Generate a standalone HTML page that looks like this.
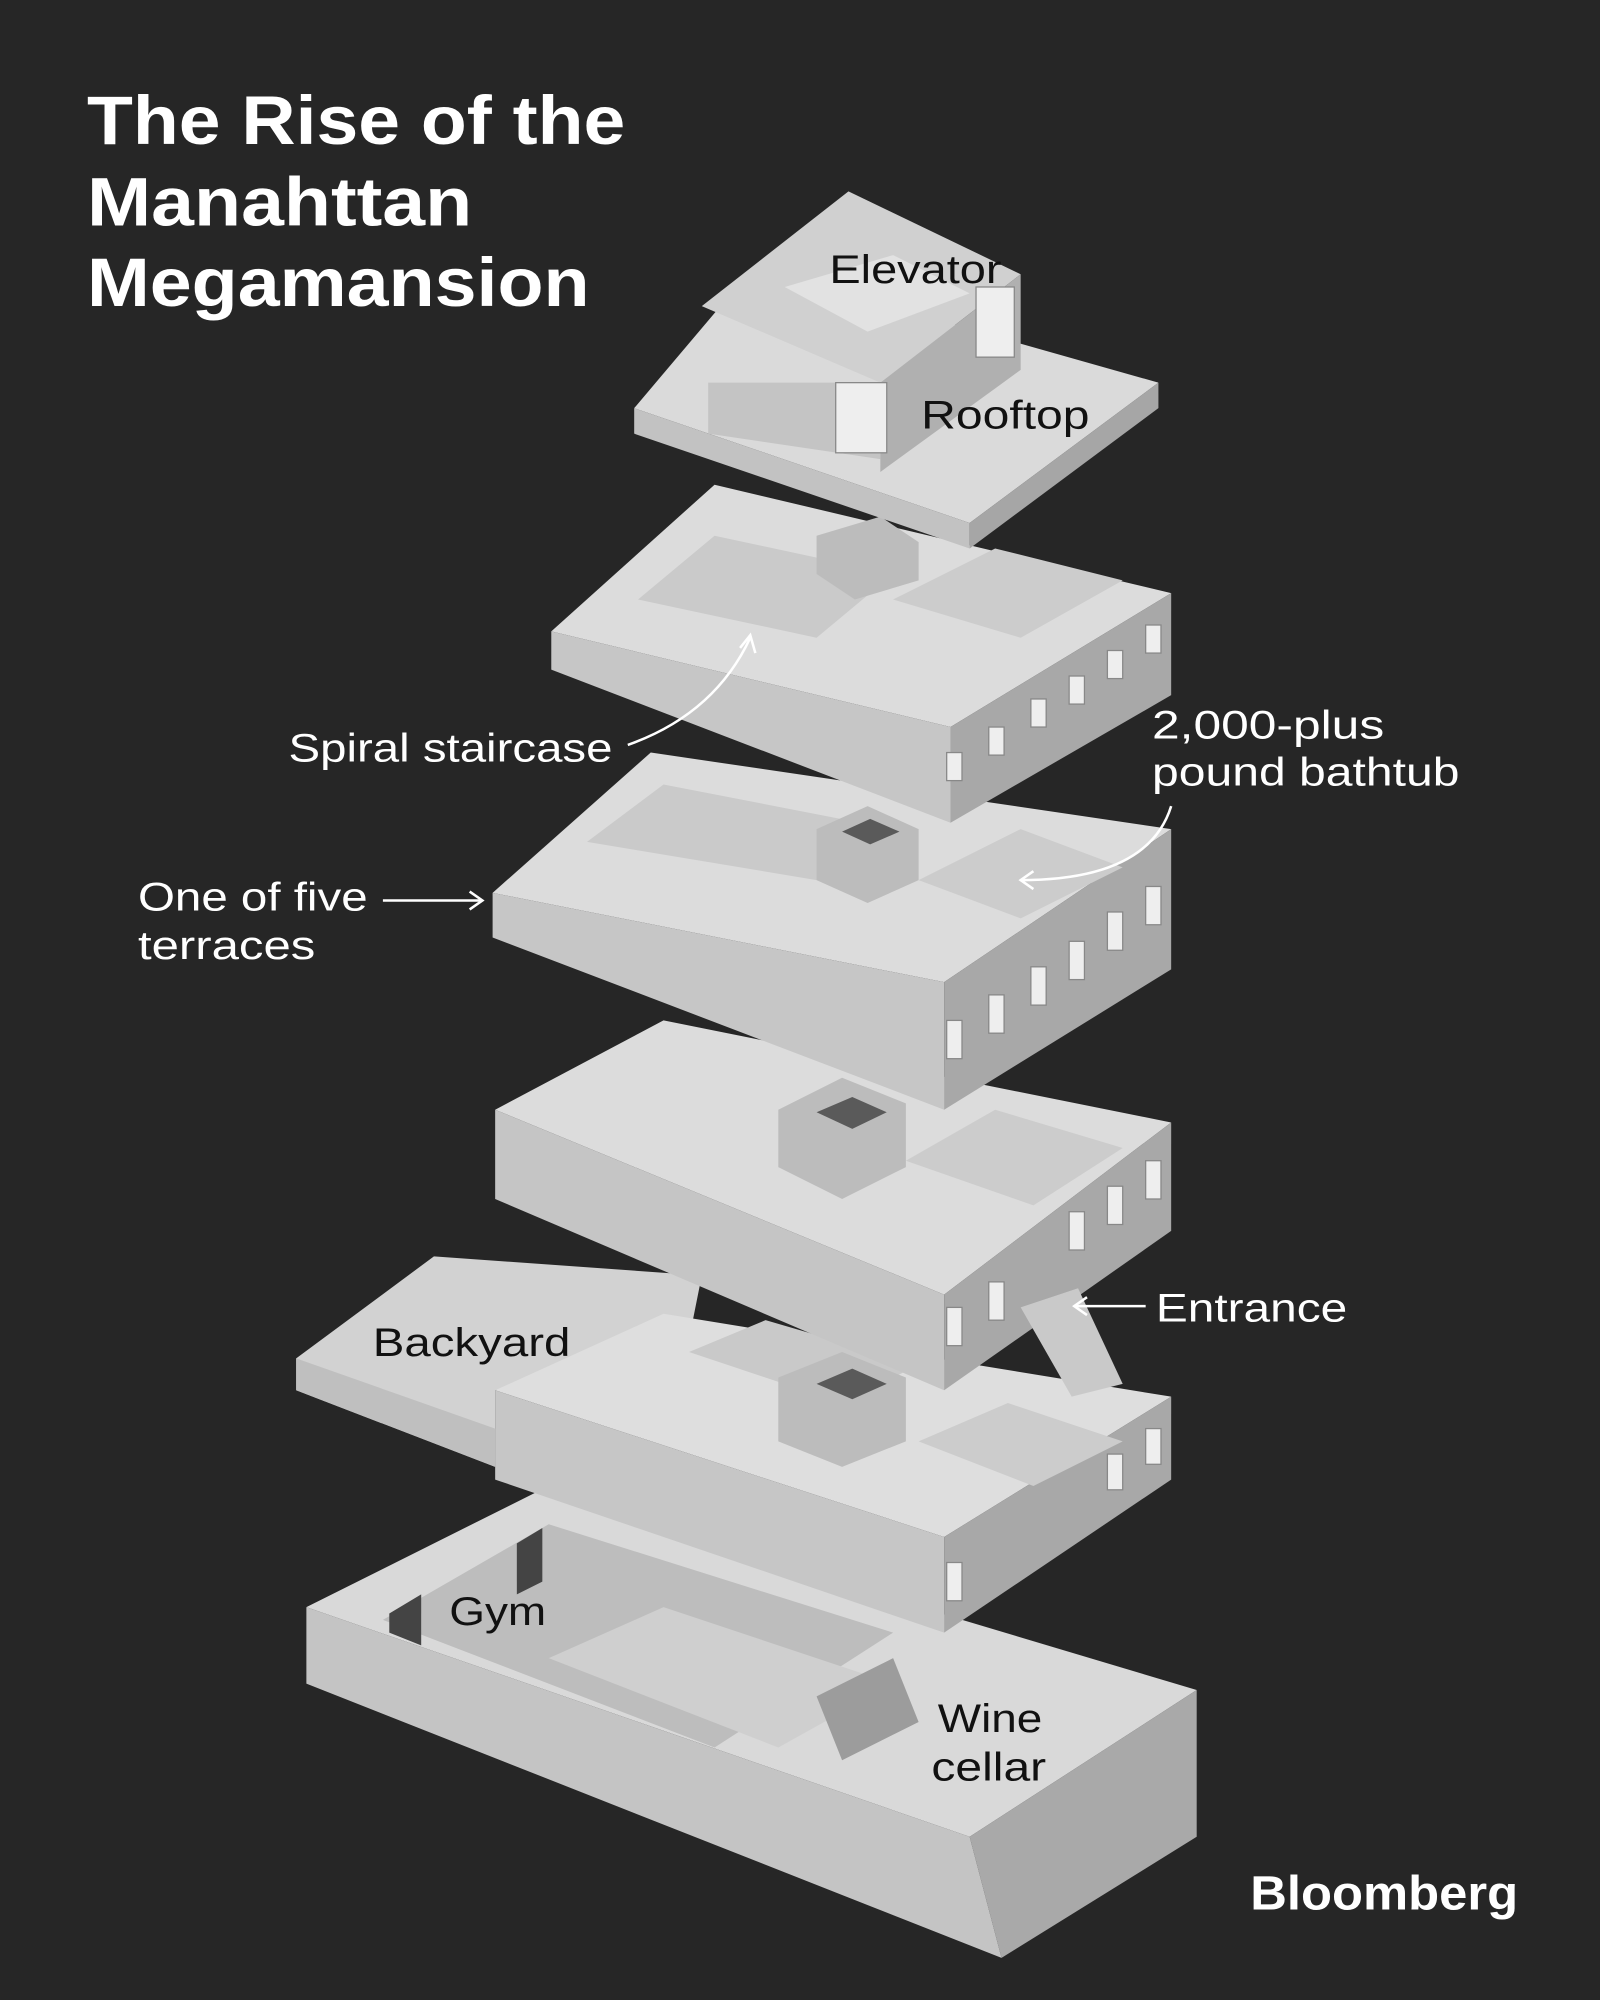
<!DOCTYPE html>
<html><head><meta charset="utf-8"><style>
html,body{margin:0;padding:0;background:#262626;}
svg{display:block}
</style></head><body>
<svg width="1600" height="2000" viewBox="0 0 1254 1568" xmlns="http://www.w3.org/2000/svg" font-family="Liberation Sans, sans-serif">
<rect width="1254" height="1568" fill="#262626"/>
<g font-weight="bold" fill="#fff" font-size="54">
<text x="68" y="113" textLength="422" lengthAdjust="spacingAndGlyphs">The Rise of the</text>
<text x="68" y="177" textLength="302" lengthAdjust="spacingAndGlyphs">Manahttan</text>
<text x="68" y="240" textLength="394" lengthAdjust="spacingAndGlyphs">Megamansion</text>
</g>

<!-- Basement -->
<polygon points="240,1260 420,1170 938,1325 760,1440" fill="#d9d9d9"/>
<polygon points="240,1260 760,1440 785,1535 240,1320" fill="#c4c4c4"/>
<polygon points="760,1440 938,1325 938,1440 785,1535" fill="#a9a9a9"/>
<polygon points="300,1270 430,1195 700,1280 560,1370" fill="#bdbdbd"/>
<polygon points="430,1300 520,1260 700,1320 610,1370" fill="#cfcfcf"/>
<polygon points="640,1330 700,1300 720,1350 660,1380" fill="#9c9c9c"/>
<polygon points="305,1265 330,1250 330,1290 305,1280" fill="#444"/>
<polygon points="405,1210 425,1198 425,1240 405,1250" fill="#444"/>

<!-- Floor 1 with backyard -->
<polygon points="232,1065 340,985 550,1000 540,1050 388,1090 388,1150 232,1090" fill="#d2d2d2"/>
<polygon points="232,1065 388,1120 388,1150 232,1090" fill="#bfbfbf"/>
<polygon points="388,1090 520,1030 918,1095 740,1205" fill="#dedede"/>
<polygon points="388,1090 740,1205 740,1280 388,1160" fill="#c6c6c6"/>
<polygon points="740,1205 918,1095 918,1160 740,1280" fill="#a8a8a8"/>
<polygon points="540,1060 600,1035 720,1070 660,1100" fill="#c9c9c9"/>
<polygon points="610,1080 660,1060 710,1080 710,1130 660,1150 610,1130" fill="#bcbcbc"/>
<polygon points="640,1085 668,1073 695,1085 668,1097" fill="#5a5a5a"/>
<polygon points="720,1130 790,1100 880,1130 810,1165" fill="#cccccc"/>

<!-- Floor 2 -->
<polygon points="388,870 520,800 918,880 740,1015" fill="#dcdcdc"/>
<polygon points="388,870 740,1015 740,1090 388,940" fill="#c5c5c5"/>
<polygon points="740,1015 918,880 918,965 740,1090" fill="#a8a8a8"/>
<polygon points="610,870 660,845 710,865 710,915 660,940 610,915" fill="#bcbcbc"/>
<polygon points="640,872 668,860 695,872 668,885" fill="#5a5a5a"/>
<polygon points="710,910 780,870 880,900 810,945" fill="#cccccc"/>
<polygon points="800,1025 845,1010 880,1085 840,1095" fill="#c9c9c9"/>

<!-- Floor 3 -->
<polygon points="386,700 510,590 918,650 740,770" fill="#dcdcdc"/>
<polygon points="386,700 740,770 740,870 386,735" fill="#c6c6c6"/>
<polygon points="740,770 918,650 918,760 740,870" fill="#a8a8a8"/>
<polygon points="460,660 520,615 700,650 640,690" fill="#cacaca"/>
<polygon points="640,650 680,632 720,650 720,690 680,708 640,690" fill="#bcbcbc"/>
<polygon points="660,652 682,642 705,652 682,662" fill="#5a5a5a"/>
<polygon points="720,690 800,650 880,680 800,720" fill="#cccccc"/>

<!-- Floor 4 -->
<polygon points="432,495 560,380 918,465 745,570" fill="#dcdcdc"/>
<polygon points="432,495 745,570 745,645 432,525" fill="#c6c6c6"/>
<polygon points="745,570 918,465 918,545 745,645" fill="#a8a8a8"/>
<polygon points="500,470 560,420 700,450 640,500" fill="#cacaca"/>
<polygon points="640,420 690,405 720,425 720,455 670,470 640,450" fill="#bcbcbc"/>
<polygon points="700,470 780,430 880,455 800,500" fill="#cccccc"/>

<!-- Rooftop -->
<polygon points="497,320 590,210 908,300 760,410" fill="#dadada"/>
<polygon points="497,320 760,410 760,430 497,340" fill="#c2c2c2"/>
<polygon points="760,410 908,300 908,320 760,430" fill="#a6a6a6"/>
<polygon points="550,240 665,150 800,215 690,300" fill="#d0d0d0"/>
<polygon points="555,300 690,300 690,360 555,340" fill="#c4c4c4"/>
<polygon points="690,300 800,215 800,290 690,370" fill="#b0b0b0"/>
<polygon points="615,225 700,200 760,230 680,260" fill="#e2e2e2"/>

<!-- windows on right faces -->
<g fill="#eee" stroke="#888" stroke-width="1">
<rect x="742" y="590" width="12" height="22"/><rect x="775" y="570" width="12" height="22"/><rect x="808" y="548" width="12" height="22"/><rect x="838" y="530" width="12" height="22"/><rect x="868" y="510" width="12" height="22"/><rect x="898" y="490" width="12" height="22"/>
<rect x="742" y="800" width="12" height="30"/><rect x="775" y="780" width="12" height="30"/><rect x="808" y="758" width="12" height="30"/><rect x="838" y="738" width="12" height="30"/><rect x="868" y="715" width="12" height="30"/><rect x="898" y="695" width="12" height="30"/>
<rect x="742" y="1025" width="12" height="30"/><rect x="775" y="1005" width="12" height="30"/><rect x="838" y="950" width="12" height="30"/><rect x="868" y="930" width="12" height="30"/><rect x="898" y="910" width="12" height="30"/>
<rect x="742" y="1225" width="12" height="30"/><rect x="868" y="1140" width="12" height="28"/><rect x="898" y="1120" width="12" height="28"/>
<rect x="655" y="300" width="40" height="55"/><rect x="765" y="225" width="30" height="55"/>
</g>

<!-- labels -->
<g font-size="31" fill="#111">
<text x="650" y="222" textLength="135" lengthAdjust="spacingAndGlyphs">Elevator</text>
<text x="722" y="336" textLength="132" lengthAdjust="spacingAndGlyphs">Rooftop</text>
<text x="292" y="1063" textLength="155" lengthAdjust="spacingAndGlyphs">Backyard</text>
<text x="352" y="1274" textLength="76" lengthAdjust="spacingAndGlyphs">Gym</text>
<text x="735" y="1358" textLength="82" lengthAdjust="spacingAndGlyphs">Wine</text>
<text x="730" y="1396" textLength="90" lengthAdjust="spacingAndGlyphs">cellar</text>
</g>
<g font-size="31" fill="#fff">
<text x="226" y="597" textLength="254" lengthAdjust="spacingAndGlyphs">Spiral staircase</text>
<text x="903" y="579" textLength="182" lengthAdjust="spacingAndGlyphs">2,000-plus</text>
<text x="903" y="616" textLength="241" lengthAdjust="spacingAndGlyphs">pound bathtub</text>
<text x="108" y="714" textLength="180" lengthAdjust="spacingAndGlyphs">One of five</text>
<text x="108" y="752" textLength="139" lengthAdjust="spacingAndGlyphs">terraces</text>
<text x="906" y="1036" textLength="150" lengthAdjust="spacingAndGlyphs">Entrance</text>
</g>
<g stroke="#fff" stroke-width="2" fill="none">
<path d="M492,584 Q560,560 588,500"/><path d="M580,508 L588,498 L592,512"/>
<path d="M918,632 Q900,690 800,690"/><path d="M810,683 L800,690 L810,697"/>
<path d="M300,706 L378,706"/><path d="M368,699 L378,706 L368,713"/>
<path d="M898,1024 L842,1024"/><path d="M852,1017 L842,1024 L852,1031"/>
</g>
<text x="980" y="1497" font-size="38" font-weight="bold" fill="#fff" textLength="210" lengthAdjust="spacingAndGlyphs">Bloomberg</text>
</svg>
</body></html>
